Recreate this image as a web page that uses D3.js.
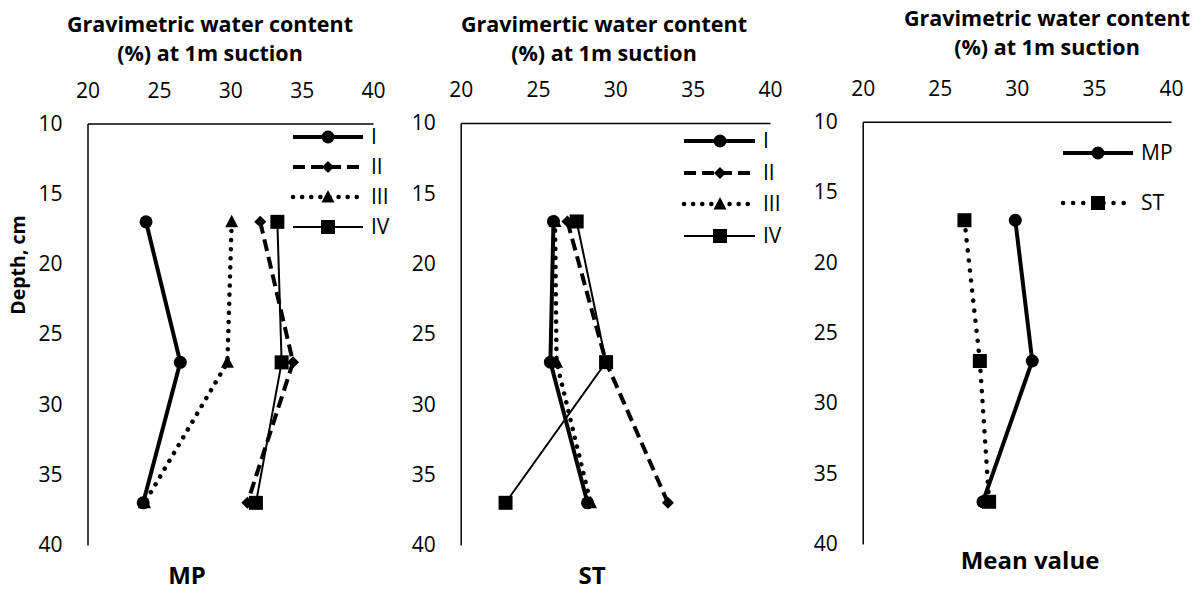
<!DOCTYPE html>
<html>
<head>
<meta charset="utf-8">
<script src="https://cdn.jsdelivr.net/npm/d3@7"></script>
<style>
  body { margin: 0; background: #fff; }
  svg, svg text { font-family: "Open Sans", sans-serif; }
  .tick text { font-size: 21px; fill: #000; font-family: "Open Sans", sans-serif; }
  .domain { stroke: #000; stroke-width: 1.5px; }
</style>
</head>
<body>
<div id="chart"></div>
<script>
// --- data ---
const depths = [17, 27, 37];
const xTicks = [20, 25, 30, 35, 40];
const yTicks = [10, 15, 20, 25, 30, 35, 40];

const seriesNames = ["I", "II", "III", "IV"];
const mpValues = [
  [24.1, 26.5, 23.9],
  [32.1, 34.4, 31.2],
  [30.1, 29.8, 24.0],
  [33.3, 33.6, 31.8]
];
const stValues = [
  [26.0, 25.8, 28.2],
  [26.9, 29.4, 33.4],
  [26.1, 26.2, 28.4],
  [27.5, 29.4, 22.9]
];
const meanNames = ["MP", "ST"];
const meanValues = [
  [29.9, 31.0, 27.8],
  [26.6, 27.6, 28.2]
];

// stili delle serie
const styles = {
  I:   { width: 4, dash: null, cap: "butt", marker: "circle" },
  II:  { width: 4, dash: "12 6", cap: "butt", marker: "diamond" },
  III: { width: 4.5, dash: "0.1 9", cap: "round", marker: "triangle" },
  IV:  { width: 2, dash: null, cap: "butt", marker: "square" },
  MP:  { width: 4, dash: null, cap: "butt", marker: "circle" },
  ST:  { width: 4.5, dash: "0.1 10", cap: "round", marker: "square" }
};

function markerPath(type) {
  if (type === "circle") return d3.symbol(d3.symbolCircle, Math.PI * 6.5 * 6.5)();
  if (type === "diamond") return "M0,-6L6,0L0,6L-6,0Z";
  if (type === "triangle") return "M0,-7L6.5,5.5L-6.5,5.5Z";
  return "M-7,-7H7V7H-7Z";
}

const svg = d3.select("#chart").append("svg")
  .attr("width", 1204)
  .attr("height", 590);

// pannelli
const panels = [
  { names: seriesNames, values: mpValues, x0: 87.5, x1: 373, y0: 123.5, y1: 545,
    title: ["Gravimetric water content", "(%) at 1m suction"], tx: 210, ty: 24,
    label: "MP", lx: 187, ly: 576,
    legX: [293, 363], legMark: 328, legLabel: 371, legY: [137, 167, 197, 227] },
  { names: seriesNames, values: stValues, x0: 460.7, x1: 770, y0: 123, y1: 545,
    title: ["Gravimertic water content", "(%) at 1m suction"], tx: 604, ty: 24,
    label: "ST", lx: 592, ly: 576,
    legX: [684, 755], legMark: 720, legLabel: 763, legY: [141, 173, 204, 236] },
  { names: meanNames, values: meanValues, x0: 862.7, x1: 1171, y0: 121.7, y1: 544,
    title: ["Gravimetric water content", "(%) at 1m suction"], tx: 1047, ty: 18,
    label: "Mean value", lx: 1030, ly: 561,
    legX: [1063, 1133], legMark: 1098, legLabel: 1141, legY: [153, 203] }
];

panels.forEach(p => {
  const x = d3.scaleLinear().domain([20, 40]).range([p.x0, p.x1]);
  const y = d3.scaleLinear().domain([10, 40]).range([p.y0, p.y1]);
  const g = svg.append("g");

  // assi
  g.append("g")
    .attr("transform", `translate(0,${p.y0})`)
    .call(d3.axisTop(x).tickValues(xTicks).tickSize(0).tickPadding(26).tickSizeOuter(0));
  g.append("g")
    .attr("transform", `translate(${p.x0},0)`)
    .call(d3.axisLeft(y).tickValues(yTicks).tickSize(0).tickPadding(25).tickSizeOuter(0));

  // titolo
  p.title.forEach((t, i) => {
    g.append("text")
      .attr("x", p.tx).attr("y", p.ty + i * 29)
      .attr("dy", "0.35em")
      .attr("text-anchor", "middle")
      .style("font-size", "21.5px").style("font-weight", "bold")
      .text(t);
  });

  g.append("text")
    .attr("x", p.lx).attr("y", p.ly)
    .attr("dy", "0.35em")
    .attr("text-anchor", "middle")
    .style("font-size", "24px").style("font-weight", "bold")
    .text(p.label);

  const line = d3.line().x(d => x(d[0])).y(d => y(d[1]));

  p.names.forEach((name, i) => {
    const st = styles[name];
    const pts = p.values[i].map((v, j) => [v, depths[j]]);
    g.append("path")
      .datum(pts)
      .attr("d", line)
      .attr("fill", "none")
      .attr("stroke", "#000")
      .attr("stroke-width", st.width)
      .attr("stroke-dasharray", st.dash)
      .attr("stroke-linecap", st.cap);
    g.selectAll(null)
      .data(pts)
      .enter()
      .append("path")
      .attr("d", markerPath(st.marker))
      .attr("transform", d => `translate(${x(d[0])},${y(d[1])})`)
      .attr("fill", "#000");

    // legenda
    const ly = p.legY[i];
    g.append("line")
      .attr("x1", p.legX[0]).attr("x2", p.legX[1])
      .attr("y1", ly).attr("y2", ly)
      .attr("stroke", "#000")
      .attr("stroke-width", st.width)
      .attr("stroke-dasharray", st.dash)
      .attr("stroke-linecap", st.cap);
    g.append("path")
      .attr("d", markerPath(st.marker))
      .attr("transform", `translate(${p.legMark},${ly})`)
      .attr("fill", "#000");
    g.append("text")
      .attr("x", p.legLabel).attr("y", ly)
      .attr("dy", "0.35em")
      .style("font-size", "21px")
      .text(name);
  });
});

// etichetta asse y
svg.append("text")
  .attr("transform", "translate(18,265) rotate(-90)")
  .attr("dy", "0.35em")
  .attr("text-anchor", "middle")
  .style("font-size", "19.5px").style("font-weight", "bold")
  .text("Depth, cm");
</script>
</body>
</html>
